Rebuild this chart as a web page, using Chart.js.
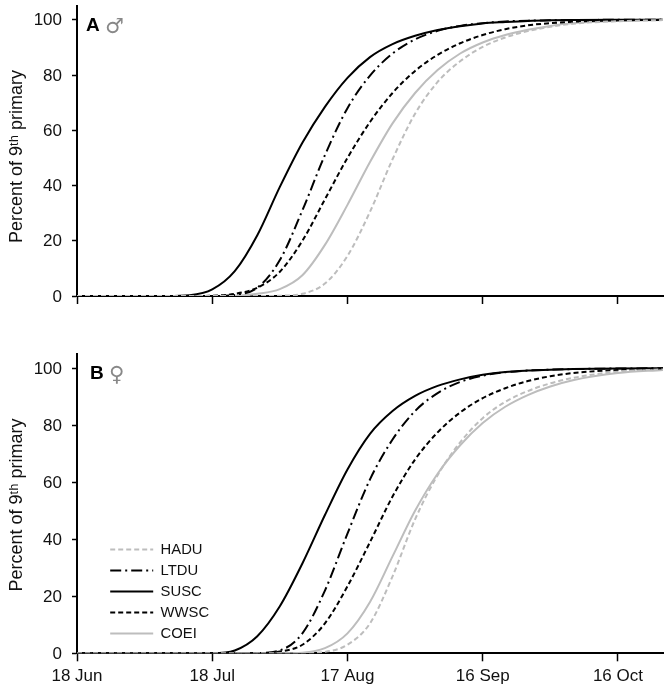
<!DOCTYPE html>
<html>
<head>
<meta charset="utf-8">
<title>Percent of 9th primary</title>
<script src="https://cdn.jsdelivr.net/npm/chart.js@4"></script>
<style>
  html, body { margin: 0; padding: 0; background: #fff; }
  canvas { position: absolute; left: 0; }
  #chartA { top: 0; }
  #chartB { top: 340px; }
</style>
</head>
<body>
<canvas id="chartA" width="670" height="330"></canvas>
<canvas id="chartB" width="670" height="350"></canvas>
<script>
// days since 18 Jun
const days = [0, 20, 25, 30, 35, 40, 45, 50, 55, 60, 65, 70, 75, 80, 85, 90, 95, 100, 105, 110, 120, 130];
const tickLabels = ["18 Jun", "18 Jul", "17 Aug", "16 Sep", "16 Oct"];
const seriesNames = ["HADU", "LTDU", "SUSC", "WWSC", "COEI"];
const yTitle = "Percent of 9ᵗʰ primary";

// panel A, males
const haduA = [0, 0, 0, 0, 0, 0, 0.1, 0.8, 4.5, 14.5, 30.5, 49.5, 66, 77.5, 85, 90.2, 93.6, 95.9, 97.5, 98.6, 99.5, 99.9];
const ltduA = [0, 0, 0, 0, 0.4, 3, 13, 31, 51, 68, 79.8, 87.8, 92.9, 96, 97.8, 98.8, 99.4, 99.7, 99.8, 99.9, 100, 100];
const suscA = [0, 0, 0.3, 2.4, 9, 22, 39.5, 55.5, 68.5, 79, 86.5, 91.2, 94.2, 96.3, 97.7, 98.7, 99.2, 99.6, 99.8, 99.9, 100, 100];
const wwscA = [0, 0, 0, 0.1, 0.8, 3, 8.8, 20, 35, 50, 63, 73.5, 81.5, 87.3, 91.5, 94.5, 96.6, 98, 98.8, 99.3, 99.8, 100];
const coeiA = [0, 0, 0, 0, 0.1, 0.8, 2.5, 7.5, 18.5, 33, 48.5, 62.5, 73.5, 81.8, 87.8, 91.8, 94.5, 96.4, 97.8, 98.8, 99.6, 99.9];

// panel B, females
const haduB = [0, 0, 0, 0, 0, 0, 0, 0.1, 0.5, 3, 10.5, 27, 47, 62.5, 74, 82.5, 88.2, 92, 94.7, 96.6, 98.8, 99.6];
const ltduB = [0, 0, 0, 0, 0, 0.1, 1, 7, 22, 42, 61, 75, 85, 91.3, 95.2, 97.4, 98.6, 99.2, 99.5, 99.7, 99.9, 100];
const suscB = [0, 0, 0, 0, 1, 6, 16.5, 31.5, 48.5, 64.5, 77, 85, 90.3, 93.8, 96.1, 97.7, 98.7, 99.2, 99.5, 99.7, 99.9, 100];
const wwscB = [0, 0, 0, 0, 0, 0, 0.6, 3, 10.5, 23.5, 39, 55, 68, 77.5, 84.5, 89.5, 93, 95.5, 97.2, 98.3, 99.4, 99.8];
const coeiB = [0, 0, 0, 0, 0, 0, 0, 0.2, 1.8, 7, 18, 34, 50, 63, 73, 80.8, 86.5, 90.6, 93.6, 95.8, 98.3, 99.4];

const GREY = "#bdbdbd";
const FONT = "'Liberation Sans', Arial, sans-serif";

const lineStyles = [
  { color: GREY, dash: [5, 3] },
  { color: "#000", dash: [11, 4, 2, 4] },
  { color: "#000", dash: [] },
  { color: "#000", dash: [5, 3] },
  { color: GREY, dash: [] },
];

// bold panel letter, sex symbol and the y title (its centre sits below the axis centre)
const panelLabel = {
  id: "panelLabel",
  afterDraw(chart, args, opts) {
    const ctx = chart.ctx;
    ctx.save();
    ctx.textBaseline = "alphabetic";
    ctx.fillStyle = "#000";
    ctx.font = "bold 19px " + FONT;
    ctx.fillText(opts.letter, opts.x, opts.y);
    ctx.fillStyle = "#888";
    ctx.font = opts.symbolSize + "px 'DejaVu Sans'";
    ctx.fillText(opts.symbol, opts.symbolX, opts.symbolY);
    ctx.translate(22, opts.titleY);
    ctx.rotate(-Math.PI / 2);
    ctx.textAlign = "center";
    ctx.fillStyle = "#111";
    ctx.font = "18px " + FONT;
    ctx.fillText(yTitle, 0, 0);
    ctx.restore();
  },
};

// the legend sits inside the plot, so move its box before it is drawn
const legendBox = {
  id: "legendBox",
  beforeDraw(chart, args, opts) {
    const legend = chart.legend;
    if (!legend || !opts.left) return;
    legend.left = opts.left;
    legend.right = opts.left + 110;
    legend.top = opts.top;
    legend.bottom = opts.top + 125;
  },
};

function makePanel(id, series, cfg) {
  new Chart(document.getElementById(id), {
    type: "line",
    data: {
      datasets: series.map((values, i) => ({
        label: seriesNames[i],
        data: values.map((v, j) => ({ x: days[j], y: v })),
        borderColor: lineStyles[i].color,
        backgroundColor: lineStyles[i].color,
        borderDash: lineStyles[i].dash,
        borderWidth: 2,
        pointRadius: 0,
        pointStyle: "line",
        cubicInterpolationMode: "monotone",
      })),
    },
    options: {
      responsive: false,
      animation: false,
      layout: { padding: { top: cfg.top, right: 7, left: 0, bottom: 0 } },
      plugins: {
        tooltip: { enabled: false },
        legend: {
          display: cfg.legend,
          position: "chartArea",
          align: "start",
          labels: {
            usePointStyle: true,
            pointStyleWidth: 43,
            padding: 6.2,
            color: "#111",
            font: { family: FONT, size: 14.8 },
            generateLabels(chart) {
              // point style hides the line dash, so put it back on each item
              const items = Chart.defaults.plugins.legend.labels.generateLabels(chart);
              items.forEach((item, i) => {
                item.lineDash = lineStyles[i].dash;
                item.lineWidth = 2;
                item.strokeStyle = lineStyles[i].color;
              });
              return items;
            },
          },
        },
        legendBox: { left: cfg.legend ? 104 : 0, top: 196 },
        panelLabel: cfg.label,
      },
      scales: {
        x: {
          type: "linear",
          min: 0,
          max: 130,
          afterFit(scale) {
            scale.height = cfg.xHeight;
            scale.paddingLeft = 0;
            scale.paddingRight = 0;
          },
          border: { color: "#000", width: 2 },
          grid: { drawOnChartArea: false, drawTicks: true, tickLength: 8, tickColor: "#000", tickWidth: 1.5 },
          ticks: {
            stepSize: 30,
            includeBounds: false,
            autoSkip: false,
            maxRotation: 0,
            padding: 5,
            color: "#111",
            font: { family: FONT, size: 17 },
            callback(value) { return cfg.showDates ? tickLabels[value / 30] : ""; },
          },
        },
        y: {
          min: 0,
          max: 105,
          afterFit(scale) {
            scale.width = 77;
            // keep the plot top fixed, no room for half a tick label
            scale.paddingTop = 0;
            scale.paddingBottom = 0;
          },
          border: { color: "#000", width: 2 },
          grid: { drawOnChartArea: false, drawTicks: true, tickLength: 5, tickColor: "#000", tickWidth: 1.5 },
          ticks: {
            stepSize: 20,
            includeBounds: false,
            padding: 10,
            labelOffset: 1,
            color: "#111",
            font: { family: FONT, size: 17 },
          },
        },
      },
    },
    plugins: [panelLabel, legendBox],
  });
}

makePanel("chartA", [haduA, ltduA, suscA, wwscA, coeiA], {
  top: 6,
  xHeight: 34,
  legend: false,
  showDates: false,
  label: { letter: "A", x: 86, y: 31, symbol: "♂", symbolX: 105, symbolY: 33, symbolSize: 21, titleY: 156.5 },
});

makePanel("chartB", [haduB, ltduB, suscB, wwscB, coeiB], {
  top: 14,
  xHeight: 36.7,
  legend: true,
  showDates: true,
  label: { letter: "B", x: 90, y: 38.5, symbol: "♀", symbolX: 109, symbolY: 40.5, symbolSize: 21, titleY: 165 },
});
</script>
</body>
</html>
